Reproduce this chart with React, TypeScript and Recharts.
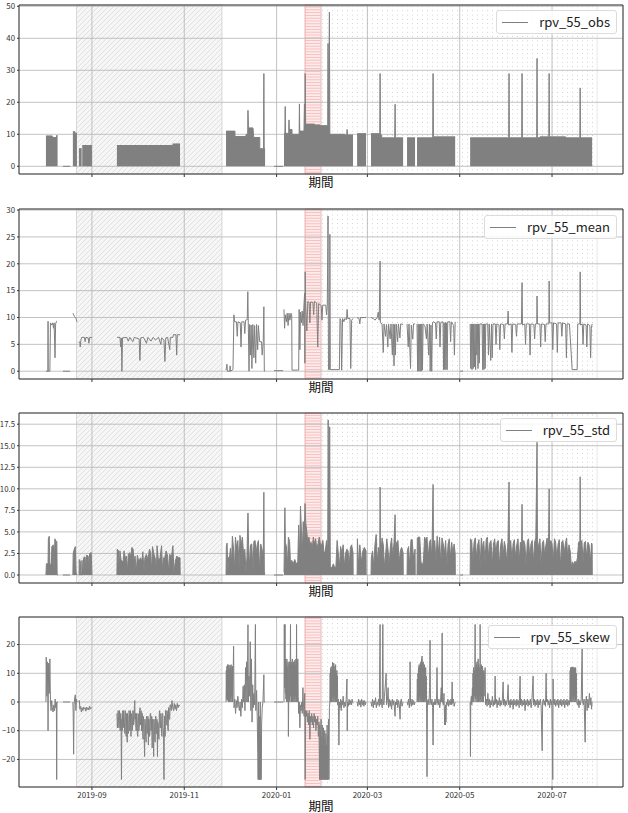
import { ComposedChart, Area, Line, XAxis, YAxis, CartesianGrid, ReferenceArea } from 'recharts';

type Pt = [number, number | null];

// x = days counted from 2019-07-01, a null value breaks the line
const X_MIN = 13.8;
const X_MAX = 412.9;
const xTicks = [62, 123, 184, 244, 305, 366];
const xTickLabels = ['2019-09', '2019-11', '2020-01', '2020-03', '2020-05', '2020-07'];

const hatchPeriod = [51.8, 147.9];
const redPeriod = [202.8, 213.3];
const dotPeriod = [213.3, 395.8];

const obsTicks = [0, 10, 20, 30, 40, 50];
const obsTickLabels = ['0', '10', '20', '30', '40', '50'];
const meanTicks = [0, 5, 10, 15, 20, 25, 30];
const meanTickLabels = ['0', '5', '10', '15', '20', '25', '30'];
const stdTicks = [0, 2.5, 5, 7.5, 10, 12.5, 15, 17.5];
const stdTickLabels = ['0.0', '2.5', '5.0', '7.5', '10.0', '12.5', '15.0', '17.5'];
const skewTicks = [-20, -10, 0, 10, 20];
const skewTickLabels = ['\u221220', '\u221210', '0', '10', '20'];

const obsPoints: Pt[] = [
  [31.6, 9.5], [35.8, 9.5], [35.8, 9.0], [38.6, 9.0], [38.6, 9.6], [39.3, 9.6], [39.4, null],
  [42.8, 0], [47.5, 0], [47.6, null],
  [49.4, 10.8], [50.8, 10.8], [50.8, 10.3], [52.1, 10.3], [52.2, null],
  [53.4, 5.5], [55.2, 5.5], [55.3, null],
  [55.6, 6.5], [62, 6.5], [62.1, null],
  [78.5, 6.5], [115.5, 6.5], [115.5, 7.0], [120.2, 7.0], [120.3, null],
  [150.6, 11], [156.5, 11], [156.5, 9.3], [163.8, 9.3], [163.8, 10], [164.9, 10], [165.1, 17.5], [165.4, 12], [168.4, 12],
  [168.9, 9], [172.9, 9], [172.9, 5.5], [175.4, 5.5], [175.6, 29], [175.8, 5.5], [176.4, 5.5], [176.5, null],
  [182.3, 0], [188.3, 0], [188.4, null],
  [188.9, 10.3], [189.5, 10.3], [189.7, 18.7], [189.9, 10.3], [192.0, 10.3], [192.2, 14.5], [192.4, 11.5], [194.2, 11.5],
  [194.2, 10], [198.9, 10], [199.1, 19.5], [199.3, 11], [202.1, 11], [202.4, 19.5], [202.7, 11.5], [202.9, 29],
  [203.2, 13.2], [209, 13.2], [209, 12.9], [212.7, 12.9], [212.7, 12.7], [217.8, 12.7], [218.0, 38.4], [218.3, 10],
  [218.9, 48.2], [219.2, 10], [229, 10], [229, 9.8], [230.4, 9.8], [230.6, 11.5], [230.8, 9.8], [234.5, 9.8], [234.6, null],
  [237.2, 10.2], [243.1, 10.2], [243.2, null],
  [246.4, 10.2], [252.2, 10.2], [252.4, 29], [252.6, 10.5], [253.7, 8.9], [262.1, 8.9], [262.3, 19.4], [262.5, 8.9],
  [267.6, 8.9], [267.7, null],
  [270.2, 8.9], [275.5, 8.9], [275.6, null],
  [276.8, 8.9], [287.2, 8.9], [287.4, 29], [287.6, 9.2], [302.0, 9.2], [302.1, null],
  [311.9, 8.9], [337.4, 8.9], [337.6, 29], [337.8, 8.9], [346.0, 8.9], [346.2, 29], [346.4, 8.9], [355.9, 8.9],
  [356.1, 33.7], [356.3, 8.9], [358, 8.9], [358, 9.2], [363.9, 9.2], [364.1, 29], [364.3, 9.2], [375, 9.2], [375, 8.9],
  [384.4, 8.9], [384.6, 24.5], [384.8, 8.9], [392.5, 8.9],
];

const meanPoints: Pt[] = [
  [31.6, 0], [32.9, 0], [33.0, 9.3], [33.1, 0], [34.2, 0], [34.6, 9.0], [35.5, 8.6], [36.0, 9.0], [36.6, 8.0], [37.0, 9.0],
  [37.6, 2.5], [38.0, 8.8], [38.6, 9.3], [38.9, 9.3], [39.0, null],
  [42.8, 0], [47.5, 0], [47.6, null],
  [49.4, 10.8], [50.5, 10.2], [51.5, 9.8], [52.1, 9.2], [52.2, null],
  [53.4, 5.3], [54.0, 5.5], [54.3, 4.5], [54.6, 5.6], [55.2, 6.3], [57, 6.3], [57.5, 5.5], [58, 6.3], [59.5, 6.2],
  [60, 5.2], [60.5, 6.3], [62, 6.3], [62.1, null],
  [78.5, 6.3], [80.5, 6.3], [81.0, 4.5], [81.4, 6.2], [81.8, 0], [82.2, 6.2], [85, 6.3], [86, 5.6], [87, 6.3], [89, 5.5],
  [90, 6.3], [93.2, 6.0], [93.7, 2.0], [94.2, 6.2], [96, 6.3], [97, 5.8], [98, 5.2], [99, 6.3], [101, 5.6], [102.5, 6.3],
  [104, 5.8], [106, 6.3], [107.5, 5.0], [108, 6.2], [109.6, 5.8], [110.2, 1.8], [110.8, 6.2], [112, 6.3], [113.4, 4.0],
  [113.8, 6.3], [115.5, 6.3], [115.8, 6.8], [117.5, 6.8], [118.0, 3.0], [118.4, 6.8], [120.2, 6.8], [120.3, null],
  [150.6, 0.2], [151.2, 1.3], [151.5, 0], [153, 0], [153.3, 1.0], [153.6, 0], [155.2, 0.3], [155.8, 10.5], [156.3, 9.2],
  [157.5, 9.2], [158, 6.5], [158.5, 9.2], [160, 9.0], [160.5, 4.5], [161, 9.2], [162.5, 9.2], [163, 7.0], [163.5, 9.5],
  [164.6, 9.6], [165.0, 14.8], [165.3, 9.0], [165.8, 0], [166.2, 8.7], [166.7, 3.0], [167.2, 8.6], [167.7, 0.5],
  [168.3, 8.7], [169.0, 2.5], [169.5, 8.5], [170.2, 1.5], [170.8, 8.7], [171.5, 4.0], [172.0, 8.5], [172.8, 5.5],
  [174.0, 5.5], [174.5, 3.0], [175.2, 5.5], [175.6, 12.0], [175.9, 0], [176.4, 0.1], [176.5, null],
  [182.3, 0.1], [188.3, 0.1], [188.4, null],
  [188.9, 11.5], [189.3, 8.0], [189.7, 10.5], [190.5, 9.2], [191, 10.8], [191.6, 8.5], [192.2, 10.8], [192.8, 9.5],
  [193.5, 10.8], [194.0, 10.5], [194.2, 0.2], [198.6, 0.2], [198.9, 11.5], [199.4, 4.0], [199.8, 11], [200.4, 9],
  [200.9, 11.2], [201.5, 8.5], [202.0, 11.8], [202.5, 14.5], [202.7, 1.5], [202.9, 18.5], [203.2, 12.5], [204, 7.5],
  [204.6, 13], [205.5, 12.8], [206, 9.0], [206.5, 12.9], [208, 12.8], [208.5, 10.5], [209, 13], [210.5, 12.7],
  [211.2, 4.5], [211.8, 12.6], [213.5, 12.2], [214, 9.5], [214.5, 12.3], [216.5, 12.3], [217, 10.5], [217.5, 12.3],
  [218.0, 28.9], [218.3, 0.3], [219.0, 0.3], [219.2, 25.5], [219.5, 0.3], [225.5, 0.3], [225.9, 9.8], [226.5, 9.5],
  [227.0, 0.2], [227.6, 9.8], [228.5, 9.2], [229, 9.8], [230.2, 9.6], [230.6, 11.5], [231, 9.8], [232.5, 9.8],
  [233, 0.5], [233.6, 9.5], [234.5, 9.8], [234.6, null],
  [237.2, 10], [238.5, 9.8], [239, 8.8], [239.5, 10], [243.1, 10], [243.2, null],
  [246.4, 10], [248, 9.8], [249, 9.5], [250.5, 10], [251.2, 11], [251.8, 9.5], [252.4, 20.5], [252.6, 9.0], [253.7, 8.8],
  [254.5, 3.5], [255, 8.8], [256, 6.5], [256.6, 8.7], [257.5, 4.5], [258, 8.8], [259, 6], [259.6, 8.8], [260.5, 3],
  [261, 8.8], [261.6, 1.0], [262, 8.7], [262.5, 3.0], [263, 8.8], [264, 5.5], [264.5, 8.8], [265.5, 6.2], [266, 8.8],
  [267.6, 8.7], [267.7, null],
  [270.2, 8.8], [271, 4.5], [271.5, 8.8], [272.5, 0.5], [273, 8.6], [274, 6], [274.5, 8.8], [275.5, 8.8], [275.6, null],
  [276.8, 8.8], [277.2, 0], [277.6, 8.8], [278, 0], [278.4, 8.7], [278.8, 0], [279.2, 8.8], [279.6, 0], [280.0, 8.8],
  [280.4, 0.2], [280.8, 8.8], [282, 8.5], [283, 6], [283.5, 8.8], [284.5, 3], [285, 8.8], [285.5, 0], [286, 8.6],
  [286.5, 0], [287, 9.0], [287.4, 9.2], [289, 9.0], [289.5, 6], [290, 9.2], [291.5, 9.2], [292, 4.5], [292.5, 9.1],
  [294.0, 9.2], [294.3, 0.3], [294.7, 9.0], [295.1, 0.3], [295.5, 9.1], [295.9, 0.3], [296.3, 9.0], [296.7, 0.3],
  [297.1, 9.2], [298.5, 9.2], [299, 5.5], [299.5, 9.2], [301, 8.5], [301.5, 3.0], [302, 9.2], [302.1, null],
  [305.3, 0], [307.2, 0], [307.3, null],
  [311.9, 8.8], [312.3, 0.5], [312.7, 8.8], [313.1, 0.3], [313.5, 8.8], [313.9, 0.5], [314.3, 8.8], [314.7, 0.8],
  [315.1, 8.8], [315.5, 0.3], [315.9, 8.8], [316.3, 3], [316.7, 8.8], [317.1, 0.5], [317.5, 8.8], [317.9, 1.5],
  [318.3, 8.8], [319.8, 8.8], [320.2, 0.3], [320.6, 8.8], [321.0, 0.3], [321.4, 8.8], [321.8, 0.5], [322.2, 8.8],
  [323.5, 8.8], [324, 3], [324.5, 8.8], [325.5, 2.0], [326, 8.8], [326.5, 2.5], [327, 8.8], [328.5, 8.8], [329, 5],
  [329.5, 8.8], [331, 8.6], [331.5, 4], [332, 8.8], [334, 8.7], [334.5, 6], [335, 8.8], [336.6, 8.8], [337.0, 11.2],
  [337.3, 8.6], [339, 8.8], [339.5, 3.5], [340, 8.8], [342, 8.7], [342.5, 6.5], [343, 8.8], [345.8, 8.8], [346.2, 16.5],
  [346.5, 8.6], [348, 8.8], [348.5, 5], [349, 8.8], [351, 8.8], [351.5, 3.0], [352, 8.8], [354, 8.7], [354.5, 6],
  [355, 8.8], [355.9, 8.8], [356.1, 14], [356.4, 8.8], [358, 8.8], [358.5, 4.5], [359, 8.8], [361, 8.7], [361.5, 5.5],
  [362, 8.8], [363.9, 8.8], [364.1, 16.8], [364.4, 9.0], [366, 9.0], [366.5, 4.0], [367, 9.0], [369, 8.8], [369.5, 3.5],
  [370, 9.0], [372, 9.0], [372.5, 6.5], [373, 9.0], [375, 8.8], [375.5, 2.5], [376, 8.8], [377.5, 8.8], [379.3, 0.3],
  [382.6, 0.3], [383.0, 8.8], [384.4, 8.8], [384.6, 18.5], [384.9, 8.6], [386, 8.8], [386.5, 5], [387, 8.8],
  [388.5, 8.6], [389, 4.5], [389.5, 8.8], [391, 8.5], [391.5, 2.5], [392, 8.0], [392.5, 8.8],
];

const stdPoints: Pt[] = [
  [31.6, 0], [31.9, 1.3], [33.0, 1.3], [33.2, 4.2], [33.8, 4.5], [34.2, 1.3], [35.2, 1.2], [35.5, 3.3], [36.5, 3.5],
  [37.0, 0.2], [37.5, 4.2], [38.2, 3.9], [38.8, 3.9], [39.0, 0], [39.5, 0], [39.6, null],
  [42.8, 0], [47.5, 0], [47.6, null],
  [49.4, 0], [49.6, 2.5], [50.3, 3.0], [51.0, 3.3], [51.5, 0.3], [52.1, 0], [52.2, null],
  [53.5, 0], [53.6, 1.8], [54.3, 1.6], [54.6, 0], [55.2, 0], [55.4, 1.7], [56.0, 0], [56.5, 2.0], [57.5, 2.1], [58, 0.2],
  [58.5, 2.3], [59.5, 2.2], [60, 0.3], [60.5, 2.5], [61.5, 2.6], [62, 0], [62.1, null],
  [78.5, 0], [78.7, 3.0], [79.5, 2.8], [80, 0.5], [80.5, 2.8], [81.2, 1.8], [82, 1.6], [82.6, 1.5], [83.2, 2.8], [84, 2.0],
  [84.8, 2.2], [85.5, 0.4], [86, 2.4], [87, 2.6], [87.6, 2.0], [88.4, 3.2], [89.2, 3.0], [89.8, 1.5], [90.5, 2.2],
  [91.3, 0.3], [92, 2.3], [93, 1.5], [94, 2.0], [95, 1.6], [95.6, 2.7], [96.4, 0.5], [97, 2.0], [98, 2.4], [99, 1.8],
  [100, 3.0], [100.8, 2.6], [101.5, 0.4], [102, 3.3], [103, 2.4], [104, 1.8], [104.6, 0.3], [105, 3.4], [106, 1.5],
  [107, 2.0], [108, 3.4], [108.6, 0.4], [109.2, 2.0], [110, 1.9], [111, 2.8], [112, 2.2], [112.8, 0.3], [113.4, 2.4],
  [114.5, 2.0], [115.5, 3.4], [116.2, 0.2], [117, 1.5], [118, 2.2], [119, 2.0], [120.2, 2.0], [120.3, 0], [120.4, null],
  [150.6, 0], [150.8, 3.3], [151.3, 3.7], [151.8, 0.3], [152.3, 2.0], [153, 2.2], [153.5, 3.1], [154.2, 1.3], [154.8, 4.5],
  [155.6, 3.0], [156.3, 0.5], [156.8, 4.4], [157.6, 3.1], [158.4, 4.0], [159.2, 1.0], [159.8, 4.6], [160.6, 3.5],
  [161.4, 4.4], [162.2, 2.4], [163, 3.0], [163.8, 0.3], [164.4, 2.0], [165.1, 7.2], [165.5, 3.5], [166.2, 1.0],
  [166.8, 3.5], [167.6, 3.6], [168.4, 0.5], [169, 3.9], [169.8, 4.0], [170.5, 2.5], [171.2, 3.5], [172, 4.0],
  [172.8, 0.5], [173.5, 3.6], [174.4, 3.0], [175.2, 2.0], [175.6, 9.6], [175.9, 0.3], [176.4, 0.3], [176.5, null],
  [182.3, 0], [188.3, 0], [188.4, null],
  [188.9, 0.3], [189.5, 7.8], [189.8, 3.8], [190.5, 3.3], [191.2, 1.0], [191.8, 4.4], [192.6, 3.9], [193.2, 1.3],
  [194, 1.7], [195, 1.3], [196, 1.8], [197, 1.3], [198, 1.5], [198.6, 5.8], [199.2, 2.0], [199.8, 8.0], [200.4, 5.2],
  [201, 2.5], [201.6, 6.2], [202.2, 4.0], [202.8, 8.3], [203.3, 6.0], [204, 5.0], [204.6, 3.8], [205.4, 4.4], [206, 3.5],
  [206.8, 3.8], [207.5, 3.0], [208.3, 4.4], [209, 3.6], [209.8, 4.2], [210.6, 3.0], [211.4, 3.6], [212.2, 4.4],
  [213, 3.5], [213.8, 3.5], [214.6, 4.0], [215.4, 2.5], [216.2, 2.8], [217.0, 4.0], [217.8, 3.0], [218.1, 18],
  [218.5, 3.0], [219.1, 17.2], [219.5, 1.0], [220.5, 0.8], [221.5, 1.3], [222.5, 0.8], [223.2, 1.0], [224, 4.0],
  [224.8, 2.5], [225.6, 1.0], [226.3, 3.3], [227.2, 2.5], [228, 3.5], [228.8, 1.0], [229.6, 2.5], [230.4, 3.0],
  [231.2, 2.8], [232, 1.2], [232.8, 3.2], [233.6, 3.5], [234.5, 2.6], [234.6, 0], [234.7, null],
  [237.2, 0], [237.4, 4.2], [238.2, 1.0], [239, 3.5], [240, 1.5], [241, 2.8], [242, 3.2], [243.1, 2.8], [243.2, 0],
  [243.3, null],
  [246.4, 0], [246.6, 2.0], [247.4, 2.8], [248.2, 1.0], [249, 3.5], [249.8, 4.7], [250.6, 1.5], [251.4, 3.2],
  [252.2, 2.5], [252.4, 10.2], [252.7, 2.0], [253.7, 4.3], [254.5, 3.5], [255.3, 1.0], [256, 2.2], [256.8, 4.2],
  [257.6, 3.0], [258.4, 1.2], [259.2, 3.3], [260, 4.3], [260.8, 2.0], [261.6, 3.8], [262.3, 7.0], [262.6, 2.5],
  [263.4, 3.8], [264.2, 4.0], [265, 1.5], [265.8, 2.8], [266.6, 3.2], [267.6, 2.6], [267.7, 0], [267.8, null],
  [270.2, 0], [270.4, 2.8], [271.2, 3.3], [272, 1.0], [272.8, 4.1], [273.6, 4.1], [274.4, 2.0], [275.5, 3.0],
  [275.6, 0], [275.7, null],
  [276.8, 0], [277, 4.3], [277.8, 4.4], [278.6, 4.4], [279.4, 1.5], [280.2, 1.2], [281, 1.5], [281.8, 4.4], [282.6, 4.0],
  [283.4, 4.4], [284.2, 2.0], [285, 3.8], [285.8, 4.1], [286.6, 1.8], [287.4, 10.5], [287.7, 3.0], [288.5, 4.0],
  [289.3, 1.5], [290.1, 4.5], [290.9, 2.5], [291.7, 4.4], [292.5, 1.2], [293.3, 4.3], [294.1, 3.6], [294.9, 2.5],
  [295.7, 4.0], [296.5, 1.0], [297.3, 3.5], [298.1, 4.2], [298.9, 2.0], [299.7, 3.8], [300.5, 2.5], [301.3, 3.6],
  [302, 2.5], [302.1, 0], [302.2, null],
  [305.3, 0], [307.2, 0], [307.3, null],
  [311.9, 0], [312.1, 4.2], [312.9, 4.0], [313.7, 1.5], [314.5, 3.8], [315.3, 4.3], [316.1, 2.0], [316.9, 3.5],
  [317.7, 4.1], [318.5, 1.0], [319.3, 4.3], [320.1, 3.0], [320.9, 3.9], [321.7, 1.5], [322.5, 4.1], [323.3, 4.4],
  [324.1, 2.0], [324.9, 3.7], [325.7, 4.0], [326.5, 1.2], [327.3, 3.6], [328.1, 4.2], [328.9, 2.5], [329.7, 3.8],
  [330.5, 4.0], [331.3, 1.0], [332.1, 3.5], [332.9, 4.2], [333.7, 2.2], [334.5, 3.9], [335.3, 3.2], [336.1, 1.5],
  [336.9, 3.8], [337.6, 10.8], [337.9, 3.0], [338.7, 4.0], [339.5, 1.8], [340.3, 3.6], [341.1, 4.1], [341.9, 2.0],
  [342.7, 3.5], [343.5, 4.2], [344.3, 1.5], [345.1, 3.8], [345.9, 3.2], [346.2, 8.2], [346.5, 2.5], [347.3, 4.0],
  [348.1, 3.5], [348.9, 1.0], [349.7, 3.9], [350.5, 4.2], [351.3, 2.0], [352.1, 3.6], [352.9, 4.0], [353.7, 1.5],
  [354.5, 3.8], [355.3, 4.3], [356.1, 15.4], [356.4, 3.0], [357.2, 3.5], [358, 4.2], [358.8, 1.2], [359.6, 3.7],
  [360.4, 4.0], [361.2, 2.2], [362, 3.5], [362.8, 4.3], [363.6, 1.8], [364.1, 10.0], [364.4, 3.0], [365.2, 4.0],
  [366, 3.6], [366.8, 1.5], [367.6, 4.2], [368.4, 3.8], [369.2, 2.0], [370, 3.5], [370.8, 4.1], [371.6, 1.0],
  [372.4, 3.8], [373.2, 4.0], [374, 2.5], [374.8, 3.6], [375.6, 4.3], [376.4, 2.0], [377.2, 3.5], [378, 2.8],
  [378.8, 1.0], [379.6, 1.5], [380.4, 1.2], [381.2, 1.6], [382, 1.3], [382.8, 2.0], [383.6, 3.8], [384.4, 4.0],
  [384.6, 11.4], [384.9, 3.0], [385.7, 4.0], [386.5, 1.5], [387.3, 3.7], [388.1, 3.9], [388.9, 2.0], [389.7, 3.8],
  [390.5, 3.5], [391.3, 1.5], [392.1, 3.7], [392.5, 3.5], [392.6, 0],
];

const skewPoints: Pt[] = [
  [31.6, 0], [31.8, 15.6], [32.2, 2], [32.5, 14], [32.9, 0], [33.0, -10], [33.1, 0], [33.4, 13.5], [33.8, 3], [34.2, 15],
  [34.6, 0], [35.0, -3], [35.4, 0.5], [35.8, -2], [36.3, -3.5], [36.8, -1], [37.3, -3], [37.7, 1], [38.1, -2], [38.5, 0],
  [38.7, -27], [38.9, 0], [39.5, 0], [39.6, null],
  [42.8, 0], [47.5, 0], [47.6, null],
  [49.4, 0], [49.6, -4], [49.9, -18.2], [50.2, -1], [50.6, 1.5], [51, 2.5], [51.4, -3], [51.8, 1], [52.1, 0], [52.2, null],
  [53.4, 0], [53.7, 0.5], [54.0, -2.5], [54.5, -1.5], [55.0, -3.5], [55.5, -2], [56, -3], [56.5, -1.8], [57, -2.5],
  [57.5, -2], [58, -3.2], [58.5, -1.8], [59, -2.6], [59.5, -2], [60, -2.8], [60.5, -1.5], [61, -2.4], [61.5, -2],
  [62, -2.2], [62.1, null],
  [78.5, -4], [78.8, -9], [79, -7], [79.3, -3], [79.5, -5], [79.8, -9], [80, -8], [80.2, -3], [80.4, -4], [80.6, -10],
  [80.8, -9], [81.0, -4], [81.2, -5], [81.5, -27], [81.8, -6], [82.0, -10], [82.3, -3], [82.6, -9], [82.8, -8],
  [83.0, -3], [83.3, -5], [83.6, -10], [83.8, -11], [84.0, -3], [84.3, -4], [84.6, -12], [84.8, -9], [85.0, -4],
  [85.3, -14], [85.5, -4], [85.8, -6], [86.0, -11], [86.3, -10], [86.5, -3], [86.8, -4], [87.0, -10], [87.3, -8],
  [87.5, -3], [87.8, -12], [88.0, -4], [88.3, -5], [88.5, -10], [88.8, -9], [89.0, -3], [89.3, -3], [89.5, -8],
  [89.8, -7], [90.0, -2], [90.3, 0.5], [90.5, -6], [90.8, -4], [91.0, -9], [91.3, -10], [91.5, -4], [91.8, -6],
  [92.0, -11], [92.3, -12], [92.5, -4], [92.8, -5], [93.0, -10], [93.3, -8], [93.5, -3], [93.8, -2], [94.0, -8],
  [94.3, -6], [94.5, -3], [94.8, -10], [95.0, -4], [95.3, -4], [95.5, -11], [95.8, -13], [96.0, -5], [96.3, -7],
  [96.5, -12], [96.8, -19], [97.0, -6], [97.3, -8], [97.5, -12], [97.8, -14], [98.0, -5], [98.3, -5], [98.5, -11],
  [98.8, -10], [99.0, -5], [99.3, -15], [99.5, -6], [99.8, -6], [100.0, -12], [100.3, -11], [100.5, -4], [100.8, -4],
  [101.0, -10], [101.3, -9], [101.5, -5], [101.8, -16], [102.0, -6], [102.3, -6], [102.5, -12], [102.8, -19],
  [103.0, -6], [103.3, -9], [103.5, -13], [103.8, -14], [104.0, -5], [104.3, -5], [104.5, -11], [104.8, -11],
  [105.0, -6], [105.3, -19], [105.5, -7], [105.8, -8], [106.0, -12], [106.3, -13], [106.5, -4], [106.8, -3],
  [107.0, -9], [107.3, -9], [107.5, -4], [107.8, -6], [108.0, -11], [108.3, -12], [108.5, -4], [108.8, -4],
  [109.0, -9], [109.3, -10], [109.6, -27], [109.9, -5], [110.1, -10], [110.4, -12], [110.6, -3], [110.9, -3],
  [111.1, -8], [111.4, -8], [111.6, -3], [111.9, -4], [112.1, -9], [112.4, -10], [112.6, -2], [112.9, -2],
  [113.1, -6], [113.4, -6], [113.6, -1], [113.9, -1], [114.4, -3], [114.9, 0.5], [115.4, -2], [115.9, -3],
  [116.4, -0.5], [116.9, -2.5], [117.4, -1], [117.9, -3], [118.4, -0.5], [118.9, -2], [119.4, -1], [120.2, -1.5],
  [120.3, null],
  [150.6, 0], [150.8, 11], [151.0, 1], [151.2, 12.5], [151.4, 0.5], [151.6, 13], [151.8, 2], [152.0, 12], [152.2, 0],
  [152.4, 13], [152.6, 1], [152.8, 11.5], [153.0, 0], [153.2, 12.8], [153.4, 1], [153.6, 12], [153.8, 0], [154.0, 13],
  [154.2, 2], [154.4, 11], [154.6, 0], [154.8, 12.5], [155.0, 0], [155.6, 19.5], [155.9, -2], [156.4, 1], [156.9, -4],
  [157.4, 0.5], [157.9, -2], [158.4, 2], [158.9, -1], [159.4, -3], [159.9, 0], [160.4, -5], [160.9, 1], [161.4, -2],
  [161.9, 5.5], [162.3, 0], [162.7, 6], [163.1, -3], [163.5, 12], [163.8, 0], [164.2, 14], [164.6, 0], [165.1, 26.9],
  [165.4, 0], [165.8, 9], [166.2, 2], [166.6, 21], [167, -3], [167.4, 15], [167.8, -7], [168.2, 6], [168.6, -2],
  [169, 3], [169.5, -1], [170.0, 27], [170.3, -3], [170.8, 4], [171.2, -5], [171.6, -18], [171.8, -27], [172.0, 0],
  [172.2, -27], [172.4, -10], [172.6, -27], [172.8, -5], [173.0, -27], [173.2, 0], [173.4, -27], [173.6, -12],
  [173.8, -27], [174.1, -8], [174.5, -2], [175.0, 0], [175.6, 9.5], [175.8, 0], [176.4, 0], [176.5, null],
  [182.3, 0], [188.3, 0], [188.4, null],
  [188.9, 0], [189.1, 27], [189.3, 5], [189.6, 27], [189.8, 3], [190.0, 15], [190.2, 1], [190.4, 13], [190.6, 0],
  [190.8, 15], [191.0, 2], [191.2, 12], [191.4, 0], [191.6, 14], [191.8, -12], [192.0, 0], [192.2, 13], [192.4, 1],
  [192.6, 14], [192.8, 0], [193.0, 12], [193.2, 27], [193.4, 2], [193.6, 14], [193.8, 0], [194.0, 13], [194.2, 1],
  [194.4, 15], [194.6, 0], [194.8, 13.5], [195.0, 2], [195.2, 14], [195.4, 0], [195.6, 12], [195.8, 1], [196.0, 14.5],
  [196.2, 0], [196.4, 13], [196.6, 2], [196.8, 15], [197.0, 0], [197.2, 27], [197.4, 1], [197.6, 14], [197.8, 0],
  [198.0, 15], [198.3, 2], [198.6, -4], [199.0, 0], [199.4, -9], [199.8, -1], [200.2, -3], [200.6, 0], [201.0, -4],
  [201.4, 5], [201.8, -2], [202.2, -5], [202.6, 3], [202.9, -27], [203.2, -3], [203.6, -5], [204.0, -3], [204.4, -7],
  [204.8, -4], [205.2, -8], [205.6, -3], [206.0, -13], [206.4, -5], [206.8, -7], [207.2, -4], [207.6, -8], [208.0, -5],
  [208.4, -9], [208.8, -4], [209.2, -7], [209.6, -5], [210.0, -10], [210.4, -6], [210.8, -8], [211.2, -5], [211.6, -12],
  [212.0, -7], [212.4, -27], [212.6, -8], [212.8, -27], [213.0, -10], [213.2, -27], [213.4, -6], [213.6, -27],
  [213.8, -12], [214.0, -27], [214.2, -8], [214.4, -27], [214.6, -15], [214.8, -27], [215.0, -9], [215.2, -27],
  [215.4, -14], [215.6, -27], [215.8, -10], [216.0, -27], [216.2, -13], [216.4, -27], [216.6, -11], [216.8, -27],
  [217.0, -15], [217.2, -27], [217.4, -8], [217.6, -27], [217.8, -12], [218.0, -27], [218.3, -6], [218.6, -27],
  [218.9, -2], [219.2, 0], [219.4, 10], [219.6, 0], [219.8, 12], [220.0, 1], [220.2, 11], [220.4, 0], [220.6, 12.5],
  [220.8, 2], [221.0, 13.9], [221.2, 0], [221.4, 12], [221.6, 1], [221.8, 13.5], [222.0, 0], [222.2, 11], [222.4, 2],
  [222.6, 12.5], [222.8, 0], [223.0, 13], [223.2, 1], [223.4, 10], [223.6, 0], [223.8, 11], [224.0, 2], [224.2, 9],
  [224.4, -1], [224.8, 1], [225.2, -15], [225.5, 0], [225.9, -2], [226.3, 1], [226.7, -3], [227.1, 0.5], [227.5, -1],
  [228.0, 2], [228.5, -2], [229.0, 0], [229.5, -1.5], [230.0, 1], [230.5, 8], [230.7, -10], [230.9, 0], [231.4, -1.5],
  [231.9, 1], [232.4, -1], [232.9, 0.5], [233.4, -1], [233.9, 1], [234.5, -0.5], [234.6, null],
  [237.2, 0], [237.7, -1.5], [238.2, 1], [238.7, -1], [239.2, 0.5], [239.7, -1.8], [240.2, 1], [240.7, -1],
  [241.2, 0.5], [241.7, -1.5], [242.2, 0.5], [242.7, -1], [243.1, 0], [243.2, null],
  [246.4, 0], [246.9, -1.5], [247.4, 1], [247.9, -2], [248.4, 0.5], [248.9, -1], [249.4, 1.5], [249.9, -2], [250.4, 0],
  [250.9, -1], [251.4, 1], [251.9, -1.5], [252.4, 27], [252.6, 0], [253.0, -1], [253.4, 1], [253.8, -2], [254.2, 27],
  [254.5, 0], [254.9, -1], [255.3, 2], [256.4, 10], [256.7, -1], [257.2, 0.5], [257.7, 5], [258.0, -2], [258.5, 1],
  [259.0, -1.5], [259.5, 0.5], [260.0, -2.5], [260.5, 1], [261.0, -1], [261.5, 0.5], [262.3, -5], [262.6, 0],
  [263.1, -1], [263.6, 1], [264.1, -2], [264.6, 0.5], [265.1, -1], [265.6, -6], [265.9, 0], [266.4, 1], [266.9, -1.5],
  [267.6, 0], [267.7, null],
  [270.2, 0], [270.7, -1], [271.2, 1], [271.7, -2], [272.0, 0.5], [272.2, 14], [272.5, 0], [273.0, -1.5], [273.5, 1],
  [274.0, -1], [274.5, 0.5], [275.0, -1], [275.5, 0], [275.6, null],
  [276.8, 0], [277.0, 8], [277.2, 0], [277.4, 10], [277.6, 1], [277.8, 12], [278.0, 0], [278.2, 13], [278.4, 2],
  [278.6, 12], [278.8, 0], [279.0, 13.5], [279.2, 1], [279.4, 14], [279.6, 0], [279.8, 15], [280.0, 2], [280.1, 16],
  [280.3, 0], [280.5, 13], [280.7, 1], [280.9, 14], [281.1, 0], [281.3, 12], [281.5, 2], [281.7, 13], [281.9, 0],
  [282.1, 11], [282.3, 1], [282.5, 12], [282.7, 0], [282.9, 9], [283.1, 0], [283.4, -26], [283.7, 0], [284.2, 1],
  [284.7, -1], [285.1, 5], [285.4, 21.5], [285.7, 0], [286.2, -1], [286.7, 1], [287.1, -2], [287.4, -15], [287.7, 0],
  [288.2, -1], [288.7, 1], [289.2, -1], [289.7, 0.5], [290.0, 12], [290.3, 0], [290.8, -1], [291.3, 1], [291.8, -2],
  [292.3, 0], [292.8, 5], [293.1, 0], [293.4, 24], [293.7, 0], [294.2, -1], [294.6, 3], [294.9, -4], [295.1, -8],
  [295.3, -2], [295.5, -8], [295.7, -1], [295.9, -7], [296.2, 0], [296.7, -1], [297.2, 1], [297.7, -1.5], [298.2, 0.5],
  [298.7, -1], [299.2, 1], [299.7, -1], [300.0, 7], [300.3, -0.5], [300.8, 1], [301.3, -1.5], [302, 0], [302.1, null],
  [311.9, 0], [312.1, -19], [312.3, 0], [312.7, 2], [313.0, -1], [313.4, 5], [313.6, 0], [313.8, 10], [314.0, 1],
  [314.2, 12], [314.4, 0], [314.6, 11], [314.8, 2], [315.0, 13], [315.2, 27], [315.4, 1], [315.6, 12], [315.8, 0],
  [316.0, 13], [316.2, 2], [316.4, 14], [316.6, 0], [316.8, 12], [317.0, 1], [317.2, 15], [317.4, 0], [317.6, 13],
  [317.8, 2], [318.0, 12], [318.3, 0], [318.5, 27], [318.7, 1], [318.9, 12], [319.1, 0], [319.3, 13], [319.5, 2],
  [319.7, 11], [319.9, 0], [320.1, 12.5], [320.3, 1], [320.5, 10], [320.7, 0], [320.9, 11], [321.1, 2], [321.4, 9],
  [321.8, 12], [322.1, -1], [322.6, 1], [323.1, -1.5], [323.6, 3], [324.1, -1], [324.6, 1], [325.1, -2], [325.6, 0.5],
  [326.1, -1], [326.6, 2], [327.1, -1.5], [327.6, 0.5], [328.1, -1], [328.4, 9], [328.7, -0.5], [329.2, 1], [329.7, -2],
  [330.2, 0.5], [330.7, -1], [331.2, 1.5], [331.7, -1.5], [332.2, 0.5], [332.7, -1], [333.2, 1], [333.7, 7], [334.0, -1],
  [334.5, 1], [335, -1.5], [335.5, 0.5], [336, -1], [336.5, 1], [337.0, 6], [337.3, -1], [337.8, 0.5], [338.3, -2],
  [338.8, 1], [339.3, -1], [339.8, 0.5], [340.3, -2.5], [340.8, 1], [341.3, -1], [341.8, 0.5], [342.3, -1.5],
  [342.8, 1], [343.3, -1], [343.8, 0.5], [344.3, -2], [344.9, 9], [345.2, -1], [345.7, 1], [346.2, -1.5], [346.7, 0.5],
  [347.2, -1], [347.7, 1], [348.2, -3], [348.7, 0.5], [349.2, -1], [349.7, 1], [350.2, -1.5], [350.7, 0.5], [351.2, -1],
  [351.7, 1], [352.2, -2], [352.7, 0.5], [353.5, 9], [353.8, -1], [354.3, 1], [354.8, -1.5], [355.3, 0.5], [355.8, -1],
  [356.3, 1], [356.8, -2], [357.3, 0.5], [357.8, -1], [358.3, 1], [358.8, -1.5], [359.5, -17], [359.8, 0], [360.3, 1],
  [360.8, -1], [361.3, 0.5], [361.7, -1.5], [362.1, 10], [362.4, 0], [362.9, 1], [363.4, -1], [363.9, 0.5], [364.4, -2],
  [364.9, 1], [365.4, -1], [365.9, 0.5], [366.5, -27], [366.7, 8], [366.9, 0], [367.4, -1], [367.9, 1], [368.4, -1.5],
  [368.9, 0.5], [369.4, -1], [369.9, 1], [370.4, -2], [370.9, 0.5], [371.4, -1], [371.9, 1], [372.4, -1.5], [372.9, 0.5],
  [373.4, -1], [373.9, 1], [374.4, -2], [374.9, 0.5], [375.4, -1], [375.9, 1], [376.4, -1.5], [376.9, 0.5], [377.4, -1],
  [377.8, 1], [378.0, 11], [378.2, 0], [378.4, 12], [378.6, 1], [378.8, 12.2], [379.0, 0], [379.2, 11.5], [379.4, 2],
  [379.6, 12], [379.8, 0], [380.0, 12.2], [380.2, 1], [380.4, 11], [380.6, 0], [380.8, 12], [381.0, 2], [381.2, 11.5],
  [381.4, 0], [381.6, 12], [381.8, 1], [382.0, 10], [382.3, 0], [382.8, -1], [383.3, 1], [383.8, -2], [384.3, 0.5],
  [384.8, -1], [385.3, 1], [385.9, 19], [386.2, 0], [386.7, -1], [387.2, 1], [387.9, -14], [388.2, 0], [388.7, 2],
  [389.2, -3], [389.7, 1], [390.2, -2], [390.7, 3], [391.2, -1], [391.7, 1.5], [392.1, -2.5], [392.5, 0],
];

const GRAY = '#808080';
const FONT = '"Noto Sans CJK JP", "Noto Sans", sans-serif';

type PanelCfg = {
  id: string;
  name: string;
  points: Pt[];
  kind: 'area' | 'line';
  top: number;
  height: number;
  marginTop: number;
  axisHeight: number;
  labelOffset: number;
  domain: [number, number];
  ticks: number[];
  tickLabels: string[];
  showDates: boolean;
  legendTop: number;
};

const panels: PanelCfg[] = [
  { id: 'obs', name: 'rpv_55_obs', points: obsPoints, kind: 'area', top: 0, height: 200, marginTop: 5, axisHeight: 26,
    labelOffset: 13.5, domain: [-2.4, 50.4], ticks: obsTicks, tickLabels: obsTickLabels, showDates: false, legendTop: 10 },
  { id: 'mean', name: 'rpv_55_mean', points: meanPoints, kind: 'line', top: 200, height: 200, marginTop: 9, axisHeight: 21,
    labelOffset: 8, domain: [-1.45, 30.2], ticks: meanTicks, tickLabels: meanTickLabels, showDates: false, legendTop: 15 },
  { id: 'std', name: 'rpv_55_std', points: stdPoints, kind: 'area', top: 400, height: 200, marginTop: 13, axisHeight: 17,
    labelOffset: 4.5, domain: [-0.93, 18.8], ticks: stdTicks, tickLabels: stdTickLabels, showDates: false, legendTop: 18 },
  { id: 'skew', name: 'rpv_55_skew', points: skewPoints, kind: 'line', top: 600, height: 213, marginTop: 17, axisHeight: 26,
    labelOffset: 2.5, domain: [-29.6, 29.6], ticks: skewTicks, tickLabels: skewTickLabels, showDates: true, legendTop: 25 },
];

function Panel({ p }: { p: PanelCfg }) {
  const rows = p.points.map(([d, v]) => ({ d, v }));
  return (
    <div style={{ position: 'absolute', left: 0, top: p.top, width: 628, height: p.height }}>
      <ComposedChart width={628} height={p.height} data={rows} margin={{ top: p.marginTop, right: 5, bottom: 0, left: 0 }}>
        <defs>
          <pattern id={`${p.id}-hatch`} patternUnits="userSpaceOnUse" width="5" height="5">
            <rect width="5" height="5" fill="rgba(190,190,190,0.14)" />
            <path d="M-1,1 l2,-2 M0,5 l5,-5 M4,6 l2,-2" stroke="#d8d8d8" strokeWidth="0.7" />
          </pattern>
          <pattern id={`${p.id}-red`} patternUnits="userSpaceOnUse" width="4" height="2.8">
            <rect width="4" height="2.8" fill="rgba(250,120,120,0.14)" />
            <line x1="0" y1="1.4" x2="4" y2="1.4" stroke="#f4a9a9" strokeWidth="0.7" />
          </pattern>
          <pattern id={`${p.id}-dots`} patternUnits="userSpaceOnUse" width="5" height="4.3">
            <circle cx="2.5" cy="2.1" r="0.5" fill="#cbcbcb" />
          </pattern>
        </defs>
        <ReferenceArea x1={hatchPeriod[0]} x2={hatchPeriod[1]} fill={`url(#${p.id}-hatch)`} fillOpacity={1}
          stroke="#cfcfcf" strokeWidth={0.8} zIndex={-150} />
        <ReferenceArea x1={redPeriod[0]} x2={redPeriod[1]} fill={`url(#${p.id}-red)`} fillOpacity={1}
          stroke="#f19a9a" strokeWidth={0.8} zIndex={-150} />
        <ReferenceArea x1={dotPeriod[0]} x2={dotPeriod[1]} fill={`url(#${p.id}-dots)`} fillOpacity={1}
          stroke="#e2e2e2" strokeWidth={0.8} zIndex={-150} />
        <CartesianGrid stroke="#b4b4b4" strokeWidth={0.8} />
        <XAxis
          type="number"
          dataKey="d"
          domain={[X_MIN, X_MAX]}
          allowDataOverflow
          ticks={xTicks}
          interval={0}
          height={p.axisHeight}
          axisLine={false}
          tickSize={3}
          tickMargin={2}
          tickLine={{ stroke: '#333' }}
          tick={{ fontSize: 8, fill: '#333', fontFamily: FONT }}
          tickFormatter={(v: number) => (p.showDates ? xTickLabels[xTicks.indexOf(v)] : '')}
          label={{ value: '期間', position: 'insideBottom', offset: p.labelOffset, fontSize: 12.5, fill: '#111', fontFamily: FONT }}
        />
        <YAxis
          type="number"
          domain={p.domain}
          allowDataOverflow
          ticks={p.ticks}
          interval={0}
          width={19}
          axisLine={false}
          tickSize={2}
          tickMargin={2}
          tickLine={{ stroke: '#333' }}
          tick={{ fontSize: 7.8, fill: '#333', fontFamily: FONT }}
          tickFormatter={(v: number) => p.tickLabels[p.ticks.indexOf(v)]}
        />
        {p.kind === 'area' ? (
          <Area type="linear" dataKey="v" baseValue={0} stroke={GRAY} strokeWidth={1} fill="#808080" fillOpacity={1}
            dot={false} activeDot={false} isAnimationActive={false} />
        ) : (
          <Line type="linear" dataKey="v" stroke={GRAY} strokeWidth={1} dot={false} activeDot={false}
            isAnimationActive={false} />
        )}
        <ReferenceArea x1={X_MIN} x2={X_MAX} y1={p.domain[0]} y2={p.domain[1]} fill="none" stroke="#3c3c3c"
          strokeWidth={1} zIndex={3000} />
      </ComposedChart>
      <div
        style={{
          position: 'absolute', right: 11, top: p.legendTop, display: 'flex', alignItems: 'center', gap: 11,
          padding: '4px 6px 4px 5px', border: '1px solid #dcdcdc', borderRadius: 3, background: 'rgba(255,255,255,0.85)',
          fontFamily: FONT, fontSize: 13, color: '#222', lineHeight: '14px',
        }}
      >
        <span style={{ display: 'inline-block', width: 26, height: 1, background: GRAY }} />
        <span>{p.name}</span>
      </div>
    </div>
  );
}

export default function App() {
  return (
    <div style={{ position: 'absolute', left: 0, top: 0, width: 628, height: 813, background: '#fff' }}>
      {panels.map((p) => (
        <Panel key={p.id} p={p} />
      ))}
    </div>
  );
}
